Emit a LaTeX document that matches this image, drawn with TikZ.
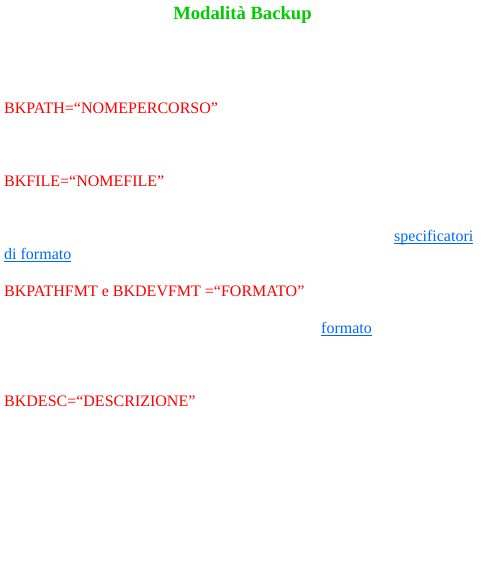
\documentclass[tikz,border=0pt]{standalone}
\usepackage{fontspec}
\setmainfont{Liberation Serif}[Ligatures={TeX,NoCommon}]
\definecolor{titlegreen}{HTML}{00CC00}
\definecolor{linkblue}{HTML}{0066FF}
\definecolor{keyred}{HTML}{FF0000}
\begin{document}
\begin{tikzpicture}[x=1pt,y=1pt,
  keytext/.style={anchor=base west, inner sep=0pt, text=keyred, font=\fontsize{16}{19}\selectfont},
  linktext/.style={anchor=base west, inner sep=0pt, text=linkblue, font=\fontsize{16}{19}\selectfont},
  titletext/.style={anchor=base, inner sep=0pt, text=titlegreen, font=\fontsize{18.67}{22}\selectfont\bfseries},
  linkline/.style={draw=linkblue, line width=1pt}]
\useasboundingbox (0,0) rectangle (488,-573);
\node[titletext] (title) at (242.5,-19.5) {Modalità Backup};
\node[keytext] (bkpath) at (4,-113) {BKPATH=“NOMEPERCORSO”};
\node[keytext] (bkfile) at (4,-186.7) {BKFILE=“NOMEFILE”};
\node[linktext] (spec) at (394,-241.5) {specificatori};
\node[linktext] (difmt) at (4,-259) {di formato};
\node[keytext] (bkfmt) at (4,-296.5) {BKPATHFMT e BKDEVFMT =“FORMATO”};
\node[linktext] (fmt) at (321,-333.5) {formato};
\node[keytext] (bkdesc) at (4,-406.7) {BKDESC=“DESCRIZIONE”};
\foreach \n in {spec,difmt,fmt}{
  \draw[linkline] ([yshift=-2pt]\n.base west) -- ([yshift=-2pt]\n.base east);
}
\end{tikzpicture}
\end{document}
